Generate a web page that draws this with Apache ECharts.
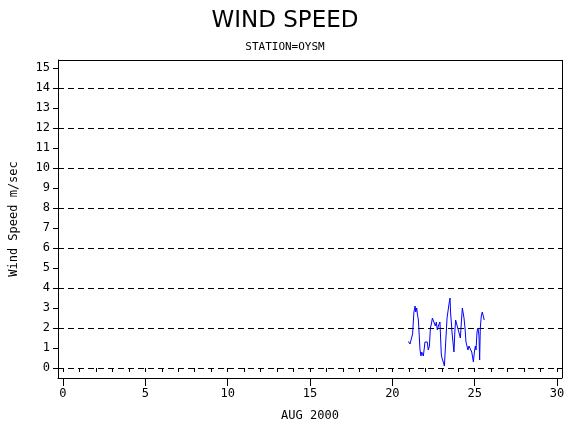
<!DOCTYPE html>
<html>
<head>
<meta charset="utf-8">
<script src="https://cdn.jsdelivr.net/npm/echarts@6/dist/echarts.min.js"></script>
<style>html,body{margin:0;padding:0;background:#fff}#c{width:570px;height:430px}</style>
</head>
<body>
<div id="c"></div>
<script>
var days = [20.97,21.07,21.17,21.23,21.27,21.31,21.38,21.42,21.48,21.52,21.58,21.64,21.68,21.74,21.78,21.84,21.88,21.94,21.98,22.04,22.12,22.18,22.25,22.31,22.37,22.43,22.49,22.55,22.61,22.67,22.73,22.79,22.85,22.89,22.93,22.97,23.01,23.09,23.16,23.22,23.26,23.32,23.38,23.44,23.50,23.54,23.58,23.62,23.68,23.74,23.80,23.84,23.90,23.97,24.03,24.09,24.13,24.19,24.25,24.29,24.35,24.41,24.47,24.53,24.59,24.65,24.71,24.77,24.82,24.88,24.92,24.98,25.04,25.08,25.14,25.20,25.26,25.30,25.34,25.40,25.46,25.52,25.58];
var speeds = [1.33,1.2,1.3,1.7,2.3,2.8,3.1,2.8,3.0,2.7,2.4,1.5,0.9,0.6,0.8,0.9,0.6,1.0,1.3,1.4,1.3,0.9,1.1,2.0,2.2,2.5,2.6,2.5,2.1,2.3,1.9,2.1,2.2,2.3,1.5,0.7,0.5,0.3,0.1,1.0,1.6,2.5,2.6,3.2,3.5,2.7,2.3,1.8,1.3,0.8,1.9,2.4,2.5,2.0,2.0,2.1,1.5,2.3,3.0,2.9,2.5,2.0,1.3,1.1,0.9,1.1,1.0,1.2,0.8,0.5,0.3,0.8,1.1,0.9,1.8,2.0,1.6,0.4,2.0,2.6,2.8,2.6,2.4];
var yTicks = [0,1,2,3,4,5,6,7,8,9,10,11,12,13,14,15];
var gridLines = [0,2,4,6,8,10,12,14];
var xMajor = [0,5,10,15,20,25,30];
var xMinor = [];
for (var i = 0; i <= 30; i++) xMinor.push(i);

var font = 'DejaVu Sans Mono';
var chart = echarts.init(document.getElementById('c'));
chart.setOption({
  animation: false,
  title: [
    {text: 'WIND SPEED', left: 'center', top: 5, textStyle: {fontFamily: 'DejaVu Sans', fontWeight: 'normal', fontSize: 23, color: '#000'}},
    {text: 'STATION=OYSM', left: 'center', top: 37, textStyle: {fontFamily: font, fontWeight: 'normal', fontSize: 11, color: '#000'}}
  ],
  grid: {left: 58, right: 8, top: 60, bottom: 52},
  xAxis: [{
    type: 'value', min: -0.3, max: 30.3,
    name: 'AUG 2000', nameLocation: 'middle', nameGap: 32,
    nameTextStyle: {fontFamily: font, fontSize: 12, color: '#000'},
    axisLine: {show: true, onZero: false, lineStyle: {color: '#000'}},
    axisTick: {show: true, length: 8, customValues: xMajor, lineStyle: {color: '#000'}},
    axisLabel: {customValues: xMajor, fontFamily: font, fontSize: 12, color: '#000', margin: 10},
    splitLine: {show: false}
  }, {
    type: 'value', min: -0.3, max: 30.3, position: 'bottom', offset: 0,
    axisLine: {show: false},
    axisTick: {show: true, length: 4, customValues: xMinor, lineStyle: {color: '#000'}},
    axisLabel: {show: true, customValues: xMinor, color: 'rgba(0,0,0,0)', fontSize: 8},
    splitLine: {show: false}
  }],
  yAxis: {
    type: 'value', min: -0.5, max: 15.4,
    name: 'Wind Speed m/sec', nameLocation: 'middle', nameGap: 38,
    nameTextStyle: {fontFamily: font, fontSize: 12, color: '#000'},
    axisLine: {show: true, onZero: false, lineStyle: {color: '#000'}},
    axisTick: {show: true, length: 5, customValues: yTicks, lineStyle: {color: '#000'}},
    axisLabel: {customValues: yTicks, fontFamily: font, fontSize: 12, color: '#000'},
    splitLine: {show: false}
  },
  series: [{
    type: 'line', xAxisIndex: 0,
    data: days.map(function (d, i) { return [d, speeds[i]]; }),
    showSymbol: false,
    lineStyle: {color: '#0000ff', width: 1},
    markLine: {
      silent: true, symbol: 'none', label: {show: false},
      lineStyle: {color: '#000', type: [6, 4], width: 1},
      data: gridLines.map(function (v) { return {yAxis: v}; })
    }
  }, {
    type: 'line', xAxisIndex: 0, data: [],
    markLine: {
      silent: true, symbol: 'none', label: {show: false},
      lineStyle: {color: '#000', type: 'solid', width: 1},
      data: [{yAxis: 15.4}, {xAxis: 30.3}]
    }
  }]
});
</script>
</body>
</html>
